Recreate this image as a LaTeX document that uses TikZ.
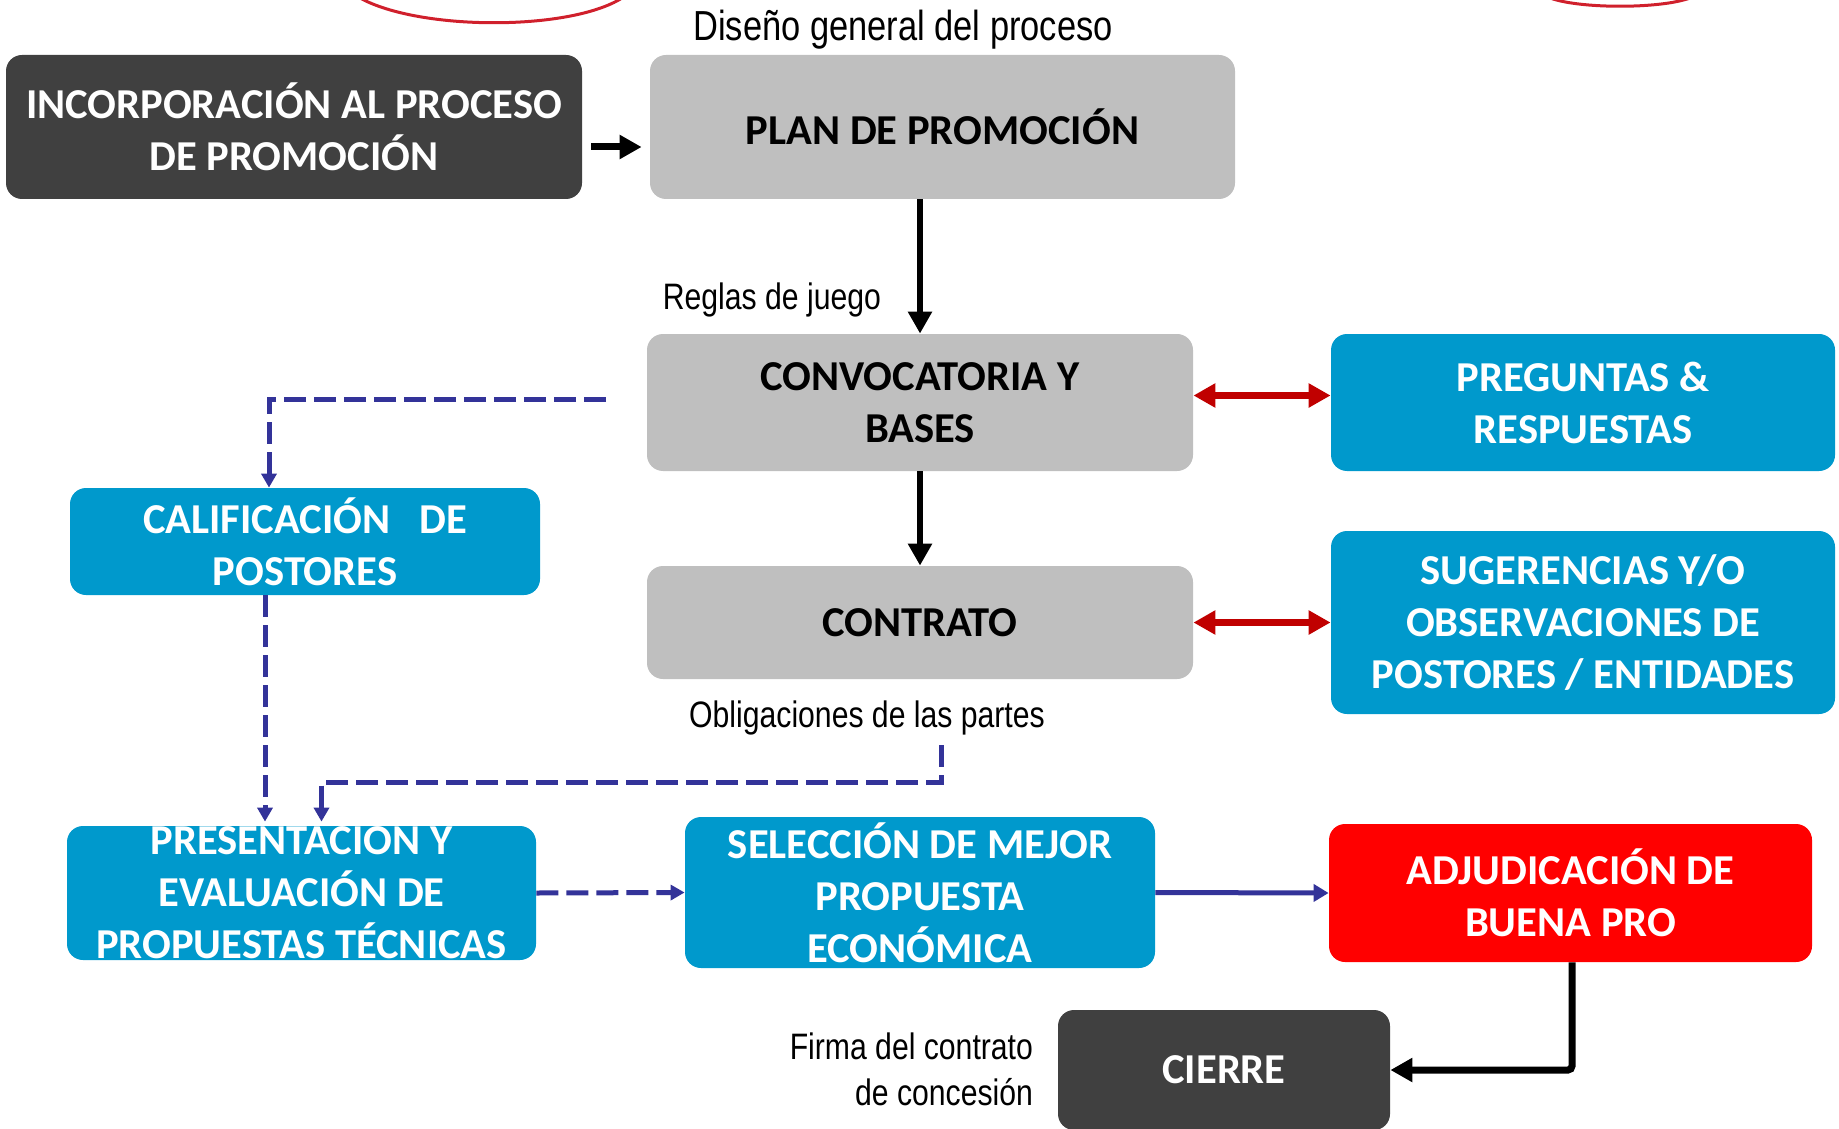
\documentclass[tikz,border=0pt]{standalone}
\usepackage{fontspec}
\setmainfont{Carlito}
\newfontfamily\narrowfont[FakeStretch=0.82]{Liberation Sans}
\usepackage{xcolor}
\usepackage{tikz}
\usetikzlibrary{arrows.meta,calc}

\definecolor{cdark}{HTML}{404040}
\definecolor{cgrey}{HTML}{BFBFBF}
\definecolor{cblue}{HTML}{0099CC}
\definecolor{cred}{HTML}{FF0000}
\definecolor{linkblue}{HTML}{333399}
\definecolor{linkred}{HTML}{C00000}
\definecolor{curvered}{HTML}{D0202C}

\begin{document}
\begin{tikzpicture}[x=0.5pt,y=-0.5pt,
	box/.style={rounded corners=8pt, inner sep=0.5pt, align=center,
		font=\bfseries\fontsize{21.3}{26}\selectfont},
	darkbox/.style={box, fill=cdark, text=white},
	greybox/.style={box, fill=cgrey, text=black},
	bluebox/.style={box, fill=cblue, text=white},
	redbox/.style={box, fill=cred, text=white},
	lbl/.style={font=\narrowfont\fontsize{18.4}{23}\selectfont},
	blackarrow/.style={line width=3.5pt, -{Triangle[length=11pt,width=11.5pt]}},
	redlink/.style={linkred, line width=3.5pt,
		{Triangle[length=11pt,width=11.5pt]}-{Triangle[length=11pt,width=11.5pt]}},
	dashlink/.style={linkblue, line width=2.5pt, dash pattern=on 11pt off 4pt,
		-{Triangle[length=7pt,width=7.5pt]}},
	bluelink/.style={linkblue, line width=2.5pt, -{Triangle[length=7.5pt,width=8.5pt]}}]
	\useasboundingbox (0,0) rectangle (1839,1128);
	% curves cut at the top
	\draw[curvered, line width=1.5pt] (360,-2) .. controls (420,31) and (570,31) .. (622,-2);
	\draw[curvered, line width=1.5pt] (1550,-2) .. controls (1580,9) and (1660,9) .. (1690,-2);
	% boxes
	\node[darkbox, minimum width=288pt, minimum height=72pt] (incorp) at (294,127) {INCORPORACIÓN AL PROCESO\\DE PROMOCIÓN};
	\node[greybox, minimum width=292.5pt, minimum height=72pt] (plan) at (942.5,127) {PLAN DE PROMOCIÓN};
	\node[greybox, minimum width=273pt, minimum height=68.5pt] (conv) at (920,402.5) {CONVOCATORIA Y\\BASES};
	\node[bluebox, minimum width=252pt, minimum height=68.5pt] (preg) at (1583,402.5) {PREGUNTAS \&\\RESPUESTAS};
	\node[bluebox, minimum width=235pt, minimum height=53.5pt] (calif) at (305,541.5) {CALIFICACIÓN\ \ \ DE\\POSTORES};
	\node[greybox, minimum width=273pt, minimum height=56.5pt] (contrato) at (920,622.5) {CONTRATO};
	\node[bluebox, minimum width=252pt, minimum height=91.5pt] (suger) at (1583,622.5) {SUGERENCIAS Y/O\\OBSERVACIONES DE\\POSTORES / ENTIDADES};
	\node[bluebox, minimum width=234.5pt, minimum height=67pt] (pres) at (301.5,893) {};
	\node[box, text=white] (prestext) at (pres) {PRESENTACION Y\\EVALUACIÓN DE\\PROPUESTAS TÉCNICAS};
	\node[bluebox, minimum width=235pt, minimum height=75.5pt] (sel) at (920,892.5) {SELECCIÓN DE MEJOR\\PROPUESTA\\ECONÓMICA};
	\node[redbox, minimum width=241.5pt, minimum height=69pt] (adj) at (1570.5,893) {ADJUDICACIÓN DE\\BUENA PRO};
	\node[darkbox, minimum width=166pt, minimum height=60pt] (cierre) at (1224,1070) {CIERRE};
	% labels
	\node[lbl, font=\narrowfont\fontsize{21}{25}\selectfont] (title) at (903,30) {Diseño general del proceso};
	\node[lbl, anchor=base east] (reglas) at (888,310) {Reglas de juego};
	\node[lbl, anchor=base] (oblig) at (867,727) {Obligaciones de las partes};
	\node[lbl, align=right, anchor=east] (firma) at (1040,1069) {Firma del contrato\\de concesión};
	% connectors
	\draw[blackarrow] ([shift={(4.5pt,-10pt)}]incorp.east) -- ([shift={(-4pt,-10pt)}]plan.west);
	\draw[blackarrow, line width=3pt] (plan.south -| conv.north) -- (conv.north);
	\draw[blackarrow, line width=3pt] (conv.south) -- (contrato.north);
	\draw[redlink] ([yshift=3.5pt]conv.east) -- ([yshift=3.5pt]preg.west);
	\draw[redlink] (contrato.east) -- (suger.west);
	\coordinate (convleft) at (606,399);
	\draw[dashlink] (convleft) -| ([xshift=-18pt]calif.north);
	\draw[dashlink, shorten >=2pt] ([xshift=-20pt]calif.south) -- ([xshift=-20pt]calif.south |- pres.north);
	\coordinate (obligdrop) at (941,745);
	\draw[dashlink, shorten >=2pt] (obligdrop) -- ++(0,37) -| ([xshift=10pt]pres.north);
	\draw[dashlink] (pres.east) -- (sel.west);
	\draw[bluelink] (sel.east) -- (adj.west);
	\draw[blackarrow, rounded corners=2pt] ([xshift=0.75pt]adj.south) |- (cierre.east);
\end{tikzpicture}
\end{document}
